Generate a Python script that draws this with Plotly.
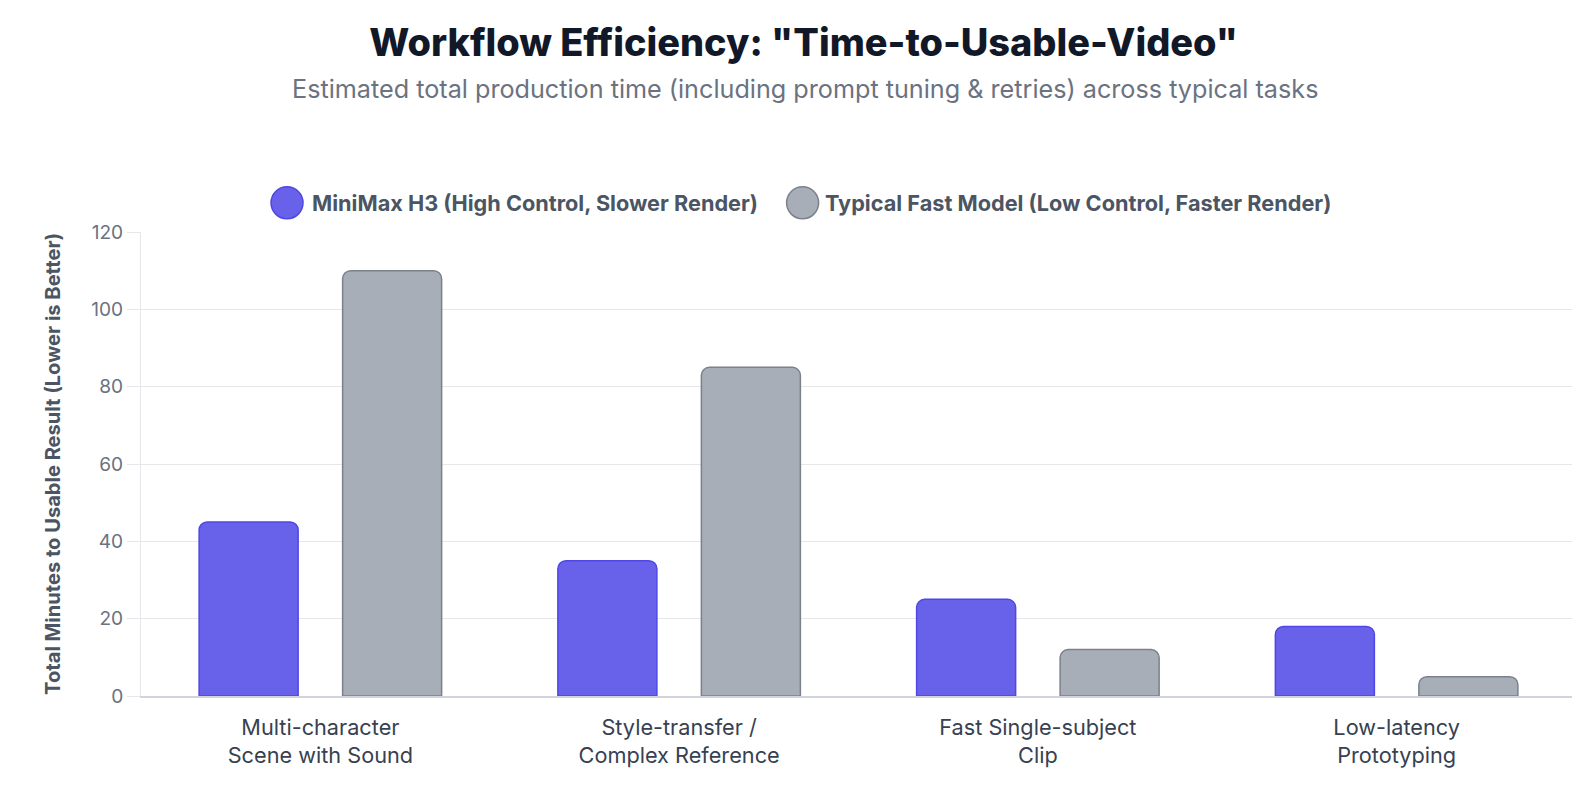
import plotly.graph_objects as go

# Data
categories = ["Multi-character<br>Scene with Sound", "Style-transfer /<br>Complex Reference",
              "Fast Single-subject<br>Clip", "Low-latency<br>Prototyping"]
minimax_minutes = [45, 35, 25, 18]
fast_model_minutes = [110, 85, 12, 5]
series_names = ["MiniMax H3 (High Control, Slower Render)",
                "Typical Fast Model (Low Control, Faster Render)"]
y_ticks = [0, 20, 40, 60, 80, 100, 120]

purple = "#6862EA"
purple_edge = "#4F46E5"
grey = "#A8AEB7"
grey_edge = "#7B818C"

# the page body has an 8px margin and the capture is scaled by ~0.993,
# so positions measured on the reference are converted to figure pixels
OFF = 8
S = 0.993
FIG_W = round(1580 / S - 2 * OFF)
FIG_H = round(810 / S - 2 * OFF)


def fx(x):
    return x / S - OFF


def fy(y):
    return y / S - OFF


def fs(size):
    return round(size / S, 1)


# plot area (reference pixels -> figure pixels)
L, R, T, B = fx(140), fx(1565), fy(230), fy(691)
W, H = R - L, B - T


def px_x(x):
    return (fx(x) - L) / W


def px_y(y):
    return (B - fy(y)) / H


fig = go.Figure()

fig.add_trace(go.Bar(
    x=categories, y=minimax_minutes, name=series_names[0],
    marker=dict(color=purple, line=dict(color=purple_edge, width=1.5), cornerradius=8),
))
fig.add_trace(go.Bar(
    x=categories, y=fast_model_minutes, name=series_names[1],
    marker=dict(color=grey, line=dict(color=grey_edge, width=1.5), cornerradius=8),
))

# legend drawn by hand so the circles can be big
legend_items = [(series_names[0], purple, purple_edge, 285, 308),
                (series_names[1], grey, grey_edge, 797, 817)]
shapes = []
annotations = []
for name, col, edge, cx, tx in legend_items:
    shapes.append(dict(
        type="circle", xref="paper", yref="paper",
        xsizemode="pixel", ysizemode="pixel",
        xanchor=px_x(cx), yanchor=px_y(201),
        x0=-16, x1=16, y0=-16, y1=16,
        fillcolor=col, line=dict(color=edge, width=1.5),
    ))
    annotations.append(dict(
        text=f"<b>{name}</b>", x=px_x(tx), y=px_y(201), xref="paper", yref="paper",
        xanchor="left", yanchor="middle", showarrow=False,
        font=dict(size=fs(21.5), color="#4B5563"),
    ))

annotations.append(dict(
    text="Estimated total production time (including prompt tuning & retries) across typical tasks",
    x=px_x(799), y=px_y(88), xref="paper", yref="paper",
    xanchor="center", yanchor="middle", showarrow=False,
    font=dict(size=fs(25), color="#6B7280"),
))
annotations.append(dict(
    text="<b>Total Minutes to Usable Result (Lower is Better)</b>",
    x=px_x(53), y=px_y(460), xref="paper", yref="paper",
    xanchor="center", yanchor="middle", textangle=-90, showarrow=False,
    font=dict(size=fs(20), color="#4B5563"),
))

fig.update_layout(
    width=FIG_W, height=FIG_H,
    paper_bgcolor="white", plot_bgcolor="white",
    font=dict(family="Inter, Helvetica, Arial, sans-serif", color="#4B5563"),
    margin=dict(l=L, r=FIG_W - R, t=T, b=FIG_H - B, autoexpand=False),
    barmode="group", bargap=0.2, bargroupgap=0.31,
    showlegend=False,
    title=dict(
        text="Workflow Efficiency: \"Time-to-Usable-Video\"",
        x=fx(798) / FIG_W, xanchor="center", xref="container",
        y=1 - fy(42) / FIG_H, yanchor="middle", yref="container",
        font=dict(size=fs(37.6), color="#111827", weight=800),
    ),
    shapes=shapes,
    annotations=annotations,
)

fig.update_yaxes(
    range=[0, 120], tickvals=y_ticks, automargin=False,
    showgrid=True, gridcolor="#E5E7EB", gridwidth=1,
    showline=True, linecolor="#E5E7EB", linewidth=1,
    ticks="outside", ticklen=13, tickcolor="#E5E7EB",
    tickfont=dict(size=fs(19), color="#6B7280"),
    zeroline=False,
)
fig.update_xaxes(
    automargin=False,
    showline=True, linecolor="#D1D5DB", linewidth=2,
    ticks="", ticklabelstandoff=11,
    tickfont=dict(size=fs(21.5), color="#374151"),
    showgrid=False,
)

fig.write_html("out.html")
